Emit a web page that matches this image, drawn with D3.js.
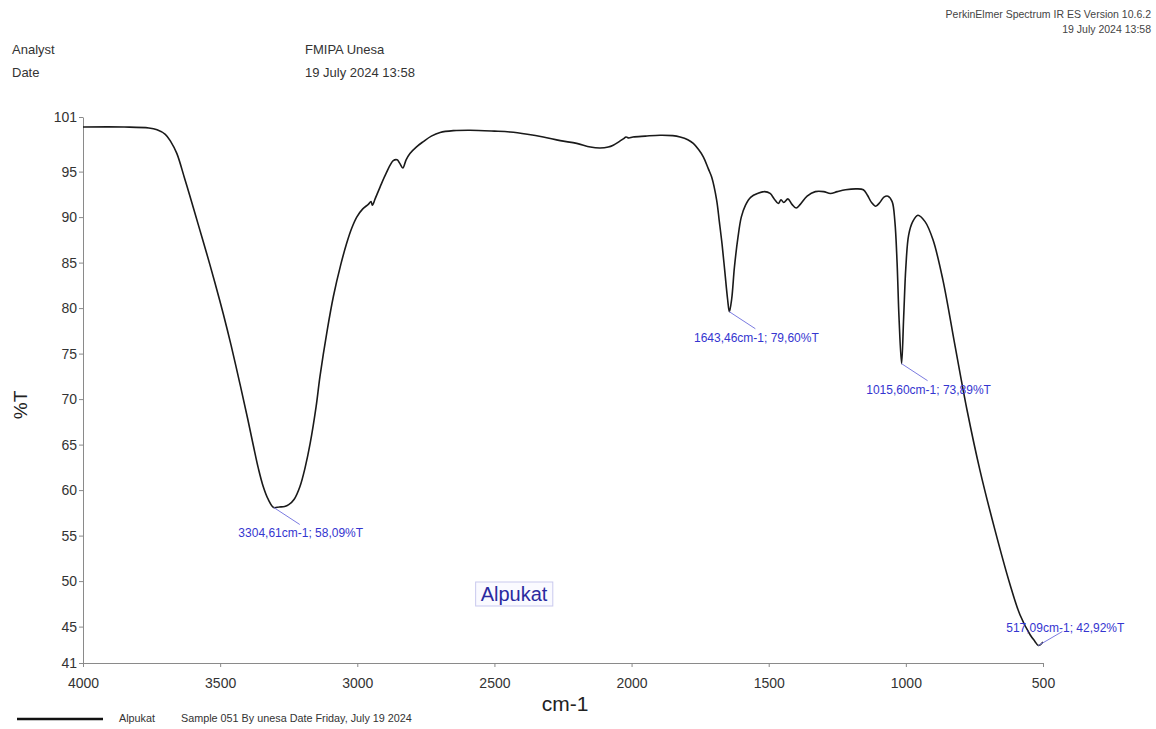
<!DOCTYPE html>
<html>
<head>
<meta charset="utf-8">
<script src="https://cdn.jsdelivr.net/npm/d3@7/dist/d3.min.js"></script>
<style>
  body { margin: 0; background: #fff; }
  svg text { font-family: Arial, "Liberation Sans", sans-serif; }
  .axis path, .axis line { stroke: #8a8a8a; }
  .axis text { fill: #333; font-size: 14px; }
</style>
</head>
<body>
<svg id="ir"></svg>
<script>
// Spectrum (wavenumber cm-1, %T)
var wavenumbers = [4000, 3850, 3760, 3730, 3700, 3680, 3658, 3630, 3610, 3580, 3549, 3520, 3488, 3460, 3428, 3400, 3379, 3360, 3343, 3325, 3304.61, 3285, 3265, 3250, 3230, 3209, 3190, 3172, 3150, 3136, 3110, 3087, 3060, 3039, 3020, 3002, 2980, 2960, 2950, 2945, 2935, 2917, 2895, 2869, 2855, 2845, 2834, 2822, 2808, 2785, 2759, 2730, 2698, 2650, 2589, 2500, 2443, 2380, 2322, 2260, 2200, 2150, 2115, 2085, 2067, 2045, 2030, 2020, 2010, 1995, 1950, 1896, 1850, 1823, 1795, 1775, 1755, 1738, 1720, 1708, 1690, 1680, 1670, 1660, 1650, 1643.46, 1635, 1625, 1612, 1600, 1585, 1565, 1540, 1515, 1495, 1480, 1465, 1455, 1445, 1430, 1415, 1400, 1385, 1360, 1330, 1300, 1275, 1250, 1220, 1180, 1155, 1140, 1125, 1110, 1095, 1080, 1065, 1050, 1040, 1032, 1025, 1015.60, 1008, 1000, 990, 975, 956, 930, 901, 865, 821, 777, 730, 675, 620, 584, 547, 530, 517.09, 510, 500];
var transmittance = [99.9, 99.9, 99.8, 99.6, 99.1, 98.3, 97.0, 94.3, 92.3, 89.2, 86.0, 82.9, 79.3, 75.9, 71.7, 67.9, 64.9, 62.3, 60.4, 59.0, 58.09, 58.15, 58.2, 58.4, 59.0, 60.4, 62.5, 65.1, 69.2, 72.5, 77.5, 81.3, 84.8, 87.1, 88.8, 90.0, 90.9, 91.4, 91.7, 91.3, 92.0, 93.3, 94.8, 96.2, 96.3, 95.9, 95.4, 96.3, 97.0, 97.7, 98.3, 98.9, 99.3, 99.5, 99.55, 99.45, 99.35, 99.1, 98.8, 98.4, 98.1, 97.7, 97.6, 97.7, 97.9, 98.3, 98.6, 98.8, 98.7, 98.8, 98.9, 99.0, 98.95, 98.8, 98.5, 98.1, 97.4, 96.6, 95.3, 94.4, 91.9, 89.5, 87.0, 84.0, 81.0, 79.60, 81.0, 84.5, 87.8, 90.0, 91.3, 92.2, 92.6, 92.8, 92.6, 92.0, 91.5, 91.9, 91.6, 92.0, 91.4, 91.0, 91.4, 92.3, 92.8, 92.8, 92.6, 92.8, 93.0, 93.1, 93.0, 92.4, 91.6, 91.2, 91.6, 92.2, 92.3, 91.7, 89.5, 85.0, 79.0, 73.89, 79.0, 84.5, 88.0, 89.5, 90.2, 89.5, 87.5, 83.1, 75.9, 68.8, 62.2, 55.6, 49.6, 46.3, 44.1, 43.4, 42.92, 43.0, 43.3];

// Peak picks
var peakWn = [3304.61, 1643.46, 1015.60, 517.09];
var peakT = [58.09, 79.60, 73.89, 42.92];
var peakLabels = ["3304,61cm-1; 58,09%T", "1643,46cm-1; 79,60%T", "1015,60cm-1; 73,89%T", "517,09cm-1; 42,92%T"];

var xTicks = [4000, 3500, 3000, 2500, 2000, 1500, 1000, 500];
var yTicks = [41, 45, 50, 55, 60, 65, 70, 75, 80, 85, 90, 95, 101];

var sampleName = "Alpukat";
var legendText = "Sample 051 By unesa Date Friday, July 19 2024";

var data = wavenumbers.map(function(w, i) { return { wn: w, t: transmittance[i] }; });

var width = 1156, height = 729;
var plotLeft = 83, plotRight = 1043, plotTop = 117, plotBottom = 663;

var svg = d3.select("svg#ir")
    .attr("width", width)
    .attr("height", height);

var x = d3.scaleLinear().domain([4000, 500]).range([plotLeft, plotRight]);
var y = d3.scaleLinear().domain([41, 101]).range([plotBottom, plotTop]);

// header texts
var header = [
  { t: "Analyst", x: 12, y: 54 },
  { t: "Date", x: 12, y: 77 },
  { t: "FMIPA Unesa", x: 305, y: 54 },
  { t: "19 July 2024 13:58", x: 305, y: 77 }
];
svg.selectAll("text.hdr").data(header).enter().append("text")
    .attr("class", "hdr")
    .attr("x", function(d) { return d.x; })
    .attr("y", function(d) { return d.y; })
    .attr("font-size", "13px")
    .attr("fill", "#333")
    .text(function(d) { return d.t; });

svg.append("text").attr("x", 1151).attr("y", 18).attr("text-anchor", "end")
    .attr("font-size", "10.5px").attr("fill", "#444")
    .text("PerkinElmer Spectrum IR ES Version 10.6.2");
svg.append("text").attr("x", 1151).attr("y", 33).attr("text-anchor", "end")
    .attr("font-size", "10.5px").attr("fill", "#444")
    .text("19 July 2024 13:58");

// axes
var xAxis = d3.axisBottom(x).tickValues(xTicks).tickSize(4).tickSizeOuter(0).tickPadding(11)
    .tickFormat(d3.format("d"));
var yAxis = d3.axisLeft(y).tickValues(yTicks).tickSize(4).tickSizeOuter(0).tickPadding(2)
    .tickFormat(d3.format("d"));

svg.append("g")
    .attr("class", "x axis")
    .attr("transform", "translate(0," + plotBottom + ")")
    .call(xAxis);

svg.append("g")
    .attr("class", "y axis")
    .attr("transform", "translate(" + plotLeft + ",0)")
    .call(yAxis);

svg.selectAll(".axis text").attr("font-family", null);

// axis titles
svg.append("text")
    .attr("transform", "translate(27,405) rotate(-90)")
    .attr("text-anchor", "middle")
    .attr("font-size", "19px")
    .attr("fill", "#222")
    .text("%T");

svg.append("text")
    .attr("x", 565).attr("y", 711)
    .attr("text-anchor", "middle")
    .attr("font-size", "21px")
    .attr("fill", "#222")
    .text("cm-1");

// spectrum line
var line = d3.line()
    .x(function(d) { return x(d.wn); })
    .y(function(d) { return y(d.t); })
    .curve(d3.curveCatmullRom.alpha(0.5));

svg.append("path")
    .datum(data)
    .attr("fill", "none")
    .attr("stroke", "#1a1a1a")
    .attr("stroke-width", 1.6)
    .attr("d", line);

// peak labels
peakWn.forEach(function(w, i) {
  var px = x(w), py = y(peakT[i]);
  var up = peakT[i] < 50;
  var ly = up ? py - 18 : py + 26;
  svg.append("line")
      .attr("x1", px).attr("y1", py)
      .attr("x2", px + (up ? 24 : 26)).attr("y2", up ? ly + 4 : ly - 9)
      .attr("stroke", "#7b7be0").attr("stroke-width", 1);
  svg.append("text")
      .attr("x", px + 27).attr("y", ly + 4)
      .attr("text-anchor", "middle")
      .attr("font-size", "12px")
      .attr("fill", "#3535d0")
      .text(peakLabels[i]);
});

// sample name box
var nameG = svg.append("g").attr("transform", "translate(514,594)");
var nameText = nameG.append("text")
    .attr("text-anchor", "middle")
    .attr("y", 7)
    .attr("font-size", "20px")
    .attr("fill", "#2a2aa0")
    .text(sampleName);
var bb = nameText.node().getBBox();
nameG.insert("rect", "text")
    .attr("x", bb.x - 5).attr("y", bb.y - 1)
    .attr("width", bb.width + 10).attr("height", bb.height + 2)
    .attr("fill", "#fafaff")
    .attr("stroke", "#c9c9ee");

// legend
svg.append("line")
    .attr("x1", 17).attr("x2", 103).attr("y1", 719).attr("y2", 719)
    .attr("stroke", "#111").attr("stroke-width", 2.5);
svg.append("text").attr("x", 119).attr("y", 722)
    .attr("font-size", "10.8px").attr("fill", "#333").text(sampleName);
svg.append("text").attr("x", 181).attr("y", 722)
    .attr("font-size", "10.8px").attr("fill", "#333").text(legendText);
</script>
</body>
</html>
